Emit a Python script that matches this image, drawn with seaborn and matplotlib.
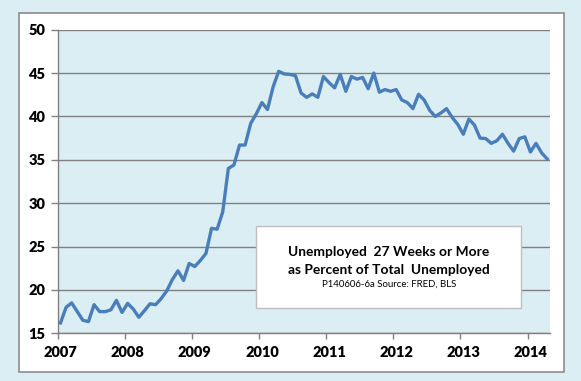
import matplotlib
matplotlib.use("Agg")
import matplotlib.pyplot as plt
from matplotlib.patches import Rectangle
import numpy as np
import pandas as pd
import seaborn as sns

# Monthly values, Jan 2007 .. Apr 2014 (percent)
values_2007 = [16.2, 18.0, 18.5, 17.5, 16.5, 16.35, 18.3, 17.5, 17.5, 17.7, 18.8, 17.4]
values_2008 = [18.45, 17.8, 16.85, 17.6, 18.4, 18.3, 19.0, 19.9, 21.2, 22.2, 21.1, 23.05]
values_2009 = [22.7, 23.4, 24.2, 27.1, 27.0, 29.0, 34.0, 34.4, 36.7, 36.7, 39.2, 40.3]
values_2010 = [41.6, 40.8, 43.4, 45.2, 44.9, 44.85, 44.7, 42.7, 42.2, 42.6, 42.2, 44.6]
values_2011 = [43.9, 43.3, 44.85, 42.9, 44.6, 44.3, 44.5, 43.2, 45.0, 42.8, 43.1, 42.9]
values_2012 = [43.1, 41.9, 41.6, 40.9, 42.55, 41.9, 40.7, 40.0, 40.4, 40.9, 39.9, 39.1]
values_2013 = [37.95, 39.7, 39.0, 37.5, 37.45, 36.9, 37.2, 37.95, 36.9, 36.0, 37.45, 37.65]
values_2014 = [35.9, 36.9, 35.8, 35.1]

years = [2007, 2008, 2009, 2010, 2011, 2012, 2013, 2014]
year_values = [values_2007, values_2008, values_2009, values_2010,
               values_2011, values_2012, values_2013, values_2014]
y_ticks = [15, 20, 25, 30, 35, 40, 45, 50]
x_labels = ["2007", "2008", "2009", "2010", "2011", "2012", "2013", "2014"]

title_line1 = "Unemployed  27 Weeks or More"
title_line2 = "as Percent of Total  Unemployed"
source_text = "P140606-6a Source: FRED, BLS"

rows = []
for yr, vals in zip(years, year_values):
    for m, v in enumerate(vals):
        rows.append({"t": yr + (m + 0.5) / 12.0, "value": v})
df = pd.DataFrame(rows)

plt.rcParams['font.family'] = ['Lato', 'DejaVu Sans']

W, H = 581, 381
fig = plt.figure(figsize=(W / 100, H / 100), dpi=100)
outer = "#DBEEF4"
fig.patch.set_facecolor(outer)

# white chart area with gray border (behind axes)
bg = Rectangle((18.5 / W, 1 - 372.3 / H), (564 - 18.5) / W, (372.3 - 13.3) / H,
               transform=fig.transFigure, facecolor="white",
               edgecolor="#8C8C8C", linewidth=1.2, zorder=-10)
fig.add_artist(bg)

ax = fig.add_axes([57.7 / W, 1 - 333.3 / H, (550 - 57.7) / W, (333.3 - 29.7) / H])
ax.set_zorder(1)
ax.set_facecolor("#DBEEF3")

sns.lineplot(data=df, x="t", y="value", ax=ax, color="#4A7EBB", linewidth=2.4, zorder=3)

n_months = len(df)
ax.set_xlim(2007, 2007 + n_months / 12.0)
ax.set_ylim(15, 50)
ax.set_yticks(y_ticks)
ax.set_yticklabels([str(t) for t in y_ticks], fontsize=10.5, fontweight="heavy")
ax.yaxis.grid(True, color="#808080", linewidth=1.0)
ax.set_axisbelow(True)

ax.set_xticks([float(y) for y in years])
ax.set_xticklabels([])
ax.set_xticks([y + 0.5 / 12 for y in years], minor=True)
ax.set_xticklabels(x_labels, minor=True, fontsize=10.5, fontweight="heavy")
ax.tick_params(axis="x", which="minor", length=0, pad=9)
ax.tick_params(axis="x", which="major", length=4, width=1, color="#808080", direction="out")
ax.tick_params(axis="y", length=5, width=1, color="#808080", direction="out", pad=4)

ax.set_xlabel("")
ax.set_ylabel("")
for s in ["top", "right"]:
    ax.spines[s].set_visible(False)
for s in ["left", "bottom"]:
    ax.spines[s].set_color("#808080")
    ax.spines[s].set_linewidth(1.0)

# annotation box
bx0, bx1, by0, by1 = 255.6, 521, 225.7, 308.3
box = Rectangle((bx0 / W, 1 - by1 / H), (bx1 - bx0) / W, (by1 - by0) / H,
                transform=fig.transFigure, facecolor="white",
                edgecolor="#BFBFBF", linewidth=1.0, zorder=5, clip_on=False)
ax.add_artist(box)
cx = (bx0 + bx1) / 2 / W + 0.5 / W
ax.text(cx, 1 - 251.5 / H, title_line1, transform=fig.transFigure, ha="center", va="center",
        fontsize=9.9, fontweight="bold", color="black", zorder=6)
ax.text(cx, 1 - 269.5 / H, title_line2, transform=fig.transFigure, ha="center", va="center",
        fontsize=9.9, fontweight="bold", color="black", zorder=6)
ax.text(cx, 1 - 284.5 / H, source_text, transform=fig.transFigure, ha="center", va="center",
        fontsize=6.9, color="black", zorder=6)

fig.savefig("out.png", dpi=100, facecolor=fig.get_facecolor())
